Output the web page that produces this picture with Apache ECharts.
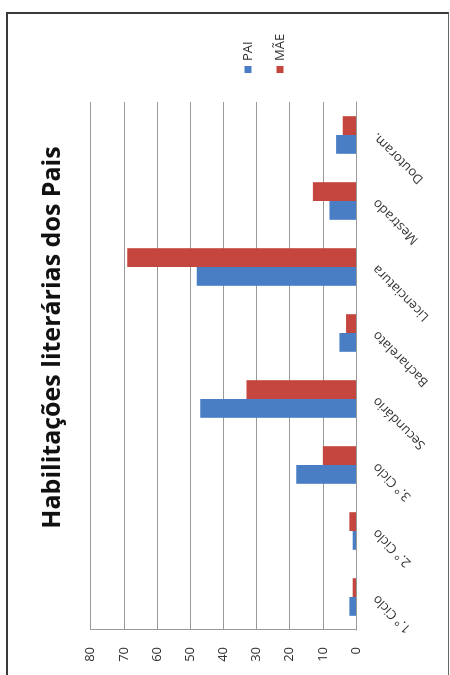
<!DOCTYPE html>
<html>
<head>
<meta charset="utf-8">
<script src="https://cdn.jsdelivr.net/npm/echarts@6/dist/echarts.min.js"></script>
<style>
html,body{margin:0;padding:0;background:#fff;width:450px;height:675px;overflow:hidden;}
#frame{position:absolute;left:6px;top:12px;width:440px;height:700px;border-top:2px solid #3a3a3a;border-left:2px solid #3a3a3a;border-right:1px solid #666;}
#chart{position:absolute;left:0;top:0;width:675px;height:450px;transform-origin:0 0;transform:translateY(675px) rotate(-90deg);}
</style>
</head>
<body>
<div id="frame"></div>
<div id="chart"></div>
<script>
const titleText = 'Habilitações literárias dos Pais';
const categories = ['1.º Ciclo','2.º Ciclo','3.º Ciclo','Secundário','Bacharelato','Licenciatura','Mestrado','Doutoram.'];
const seriesNames = ['PAI','MÃE'];
const paiValues = [2, 1, 18, 47, 5, 48, 8, 6];
const maeValues = [1, 2, 10, 33, 3, 69, 13, 4];
const valueTicks = [0, 10, 20, 30, 40, 50, 60, 70, 80];

const chart = echarts.init(document.getElementById('chart'), null, {renderer:'canvas'});
const font = '"Open Sans", Lato, sans-serif';
chart.setOption({
  animation:false,
  backgroundColor:'transparent',
  textStyle:{fontFamily:font},
  title:{
    text:titleText, left:'center', top:35,
    textStyle:{fontFamily:font, fontSize:25, fontWeight:'bold', color:'#111'}
  },
  legend:{
    orient:'vertical', left:597, top:236,
    itemWidth:7, itemHeight:7, itemGap:18,
    icon:'rect',
    data:seriesNames,
    textStyle:{fontFamily:font, fontSize:13, color:'#333', lineHeight:14}
  },
  grid:{left:45, right:102, top:90.7, bottom:94, containLabel:false},
  xAxis:{
    type:'category', data:categories,
    axisLine:{show:true, lineStyle:{color:'#999', width:1}},
    axisTick:{show:false},
    axisLabel:{rotate:45, margin:19, fontSize:13, color:'#333', fontFamily:font, interval:0}
  },
  yAxis:{
    type:'value', min:valueTicks[0], max:valueTicks[valueTicks.length-1], interval:10,
    axisLine:{show:true, lineStyle:{color:'#999', width:1}},
    axisTick:{show:false},
    splitLine:{show:true, lineStyle:{color:'#999', width:1}},
    axisLabel:{margin:17, fontSize:13, color:'#333', fontFamily:font}
  },
  series:[
    {name:seriesNames[0], type:'bar', data:paiValues, itemStyle:{color:'#4A7EC4'}, barGap:'0%', barCategoryGap:'43%'},
    {name:seriesNames[1], type:'bar', data:maeValues, itemStyle:{color:'#C4463F'}, barGap:'0%', barCategoryGap:'43%'}
  ]
});
</script>
</body>
</html>
